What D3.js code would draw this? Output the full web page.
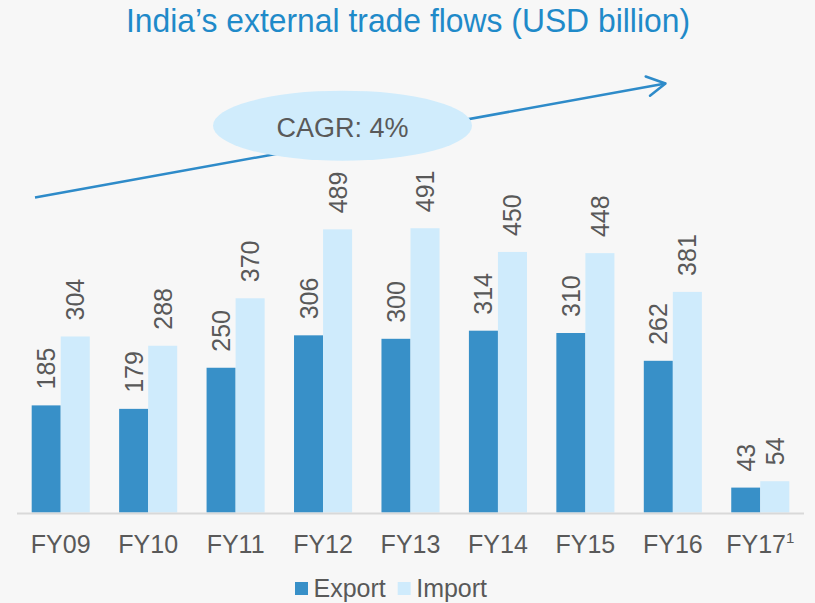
<!DOCTYPE html>
<html>
<head>
<meta charset="utf-8">
<script src="https://cdn.jsdelivr.net/npm/d3@7"></script>
<style>
  body { margin: 0; background: #f7f7f7; }
  svg { display: block; font-family: "Liberation Sans", Arial, sans-serif; }
</style>
</head>
<body>
<div id="chart"></div>
<script>
// data
var categories = ["FY09", "FY10", "FY11", "FY12", "FY13", "FY14", "FY15", "FY16", "FY17"];
var exportValues = [185, 179, 250, 306, 300, 314, 310, 262, 43];
var importValues = [304, 288, 370, 489, 491, 450, 448, 381, 54];
var seriesNames = ["Export", "Import"];
var seriesColors = ["#3890c8", "#cfebfc"];

var width = 815, height = 603;
var baseline = 512.5;
var textColor = "#595959";

var svg = d3.select("#chart").append("svg")
    .attr("width", width)
    .attr("height", height);

svg.append("rect").attr("width", width).attr("height", height).attr("fill", "#f7f7f7");

// title (reference font is a bit condensed, so squeeze it to its width)
svg.append("text")
    .attr("x", 126)
    .attr("y", 32)
    .attr("font-size", "33.5px")
    .attr("fill", "#1f8ac9")
    .attr("textLength", 564)
    .attr("lengthAdjust", "spacingAndGlyphs")
    .text("India\u2019s external trade flows (USD billion)");

// scales
var x0 = d3.scaleBand().domain(categories).range([17, 804]).paddingInner(0.336).paddingOuter(0.168);
var x1 = d3.scaleBand().domain(seriesNames).range([0, x0.bandwidth()]);
var y = d3.scaleLinear().domain([0, 500]).range([baseline, baseline - 289.5]);

// CAGR arrow (drawn first, ellipse sits on top)
var arrowStart = [35, 197.5], arrowEnd = [665.5, 83.5];
svg.append("line")
    .attr("x1", arrowStart[0]).attr("y1", arrowStart[1])
    .attr("x2", arrowEnd[0]).attr("y2", arrowEnd[1])
    .attr("stroke", "#2e8bc9").attr("stroke-width", 2.5);
svg.append("path")
    .attr("d", "M645.7,76.5 L" + arrowEnd[0] + "," + arrowEnd[1] + " L650,95.7")
    .attr("fill", "none")
    .attr("stroke", "#2e8bc9").attr("stroke-width", 2.5)
    .attr("stroke-linecap", "round").attr("stroke-linejoin", "round");

svg.append("ellipse")
    .attr("cx", 342.5).attr("cy", 125.7)
    .attr("rx", 129.5).attr("ry", 35)
    .attr("fill", "#d0ecfc");
svg.append("text")
    .attr("x", 342.5).attr("y", 137)
    .attr("text-anchor", "middle")
    .attr("font-size", "27px")
    .attr("fill", textColor)
    .text("CAGR: 4%");

// bars
var rows = categories.map(function(c, i) {
  return {cat: c, values: [exportValues[i], importValues[i]]};
});

var groups = svg.selectAll(".group")
    .data(rows)
    .enter().append("g")
    .attr("class", "group")
    .attr("transform", function(d) { return "translate(" + x0(d.cat) + ",0)"; });

groups.selectAll("rect")
    .data(function(d) { return d.values.map(function(v, j) { return {name: seriesNames[j], value: v, color: seriesColors[j]}; }); })
    .enter().append("rect")
    .attr("x", function(d) { return x1(d.name); })
    .attr("y", function(d) { return y(d.value); })
    .attr("width", x1.bandwidth())
    .attr("height", function(d) { return baseline - y(d.value); })
    .attr("fill", function(d) { return d.color; });

// rotated value labels
groups.selectAll(".val")
    .data(function(d) { return d.values.map(function(v, j) { return {name: seriesNames[j], value: v}; }); })
    .enter().append("text")
    .attr("class", "val")
    .attr("transform", function(d) {
      return "translate(" + (x1(d.name) + x1.bandwidth() / 2) + "," + (y(d.value) - 16) + ") rotate(-90)";
    })
    .attr("dy", "0.36em")
    .attr("font-size", "25px")
    .attr("fill", textColor)
    .text(function(d) { return d.value; });

// x axis line
svg.append("line")
    .attr("x1", 17).attr("x2", 804)
    .attr("y1", baseline + 1).attr("y2", baseline + 1)
    .attr("stroke", "#d9d9d9").attr("stroke-width", 2);

// category labels
var catLabels = svg.selectAll(".cat")
    .data(categories)
    .enter().append("text")
    .attr("class", "cat")
    .attr("x", function(d) { return x0(d) + x0.bandwidth() / 2; })
    .attr("y", 552.5)
    .attr("text-anchor", "middle")
    .attr("font-size", "25px")
    .attr("fill", textColor)
    .text(function(d) { return d; });
catLabels.filter(function(d) { return d === "FY17"; })
    .append("tspan")
    .attr("dy", "-10")
    .attr("font-size", "15px")
    .text("1");

// legend
var legendX = [295, 397.7];
var legend = svg.selectAll(".legend")
    .data(seriesNames)
    .enter().append("g")
    .attr("class", "legend")
    .attr("transform", function(d, i) { return "translate(" + legendX[i] + ",582)"; });
legend.append("rect")
    .attr("width", 13).attr("height", 13)
    .attr("fill", function(d, i) { return seriesColors[i]; });
legend.append("text")
    .attr("x", 18.5).attr("y", 14.5)
    .attr("font-size", "25px")
    .attr("fill", textColor)
    .text(function(d) { return d; });
</script>
</body>
</html>
